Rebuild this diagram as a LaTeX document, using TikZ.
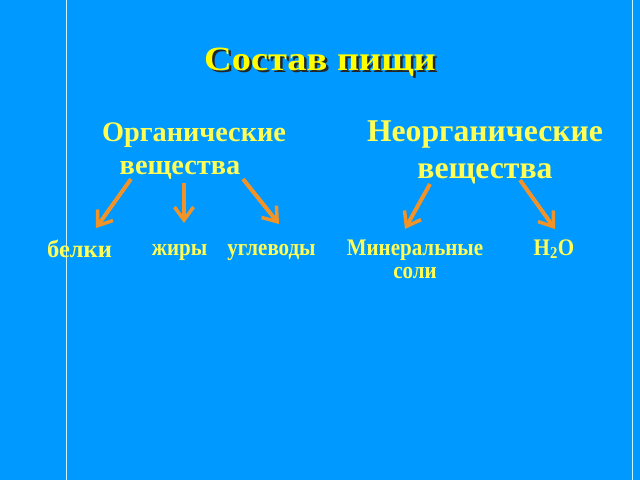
\documentclass[tikz,border=0pt]{standalone}
\usepackage{fontspec}
\usepackage{graphicx}
\setmainfont{Liberation Serif}
\usetikzlibrary{arrows.meta}
\definecolor{bg}{HTML}{0099FF}
\definecolor{ttl}{HTML}{FFFF00}
\definecolor{txt}{HTML}{FFFF55}
\definecolor{arr}{HTML}{F0942A}
\definecolor{rule}{HTML}{CCF4FF}
\newcommand{\tallt}[1]{\scalebox{1}[1.13]{#1}}
\newcommand{\titletext}{\scalebox{1.13}[1]{Состав пищи}}
\tikzset{
  lbl/.style={text=txt,font=\bfseries\fontsize{21}{20.4}\selectfont,inner sep=0pt,anchor=base},
  grp/.style={text=txt,font=\bfseries\fontsize{28.3}{33}\selectfont,inner sep=0pt,anchor=base},
  grpbig/.style={grp,font=\bfseries\fontsize{31.7}{36}\selectfont},
  ttlstyle/.style={font=\bfseries\fontsize{34}{40}\selectfont,inner sep=0pt,anchor=base},
  conn/.style={draw=arr,line width=4pt,-{Straight Barb[length=13pt,width=19pt,line width=3.5pt]}}
}
\begin{document}
\begin{tikzpicture}[x=1pt,y=-1pt]
\fill[bg] (0,0) rectangle (640,480);
\useasboundingbox (0,0) rectangle (640,480);
\draw[rule,line width=1.3pt] (66.5,0) -- (66.5,480);
\draw[rule,line width=1.3pt] (632.5,0) -- (632.5,480);
% title with shadow
\node[ttlstyle,text=black!85] (tshadow) at (322.5,72.5) {\titletext};
\node[ttlstyle,text=ttl] (title) at (320,70) {\titletext};
% groups
\node[grp] (org1) at (194,141) {Органические};
\node[grp] (org2) at (180,174) {вещества};
\node[grpbig] (inorg1) at (485,141) {Неорганические};
\node[grpbig] (inorg2) at (485,178) {вещества};
% leaves
\node[lbl,font=\bfseries\fontsize{24.5}{28}\selectfont] (belki) at (79.5,257) {белки};
\node[lbl] (zhiry) at (179.5,255) {\tallt{жиры}};
\node[lbl] (ugl) at (271.5,255) {\tallt{углеводы}};
\node[lbl] (min) at (415,255) {\tallt{\begin{tabular}[t]{@{}c@{}}Минеральные\\соли\end{tabular}}};
\node[lbl] (water) at (554,255) {\tallt{H\textsubscript{2}O}};
% connector ends
\coordinate (a1s) at (131,179); \coordinate (a1e) at (96,228);
\coordinate (a2s) at (184,183); \coordinate (a2e) at (184,223);
\coordinate (a3s) at (243,179); \coordinate (a3e) at (279,224);
\coordinate (a4s) at (430,184); \coordinate (a4e) at (405,229);
\coordinate (a5s) at (520,180); \coordinate (a5e) at (555,229);
\draw[conn] (a1s) -- (a1e);
\draw[conn] (a2s) -- (a2e);
\draw[conn] (a3s) -- (a3e);
\draw[conn] (a4s) -- (a4e);
\draw[conn] (a5s) -- (a5e);
\end{tikzpicture}
\end{document}
